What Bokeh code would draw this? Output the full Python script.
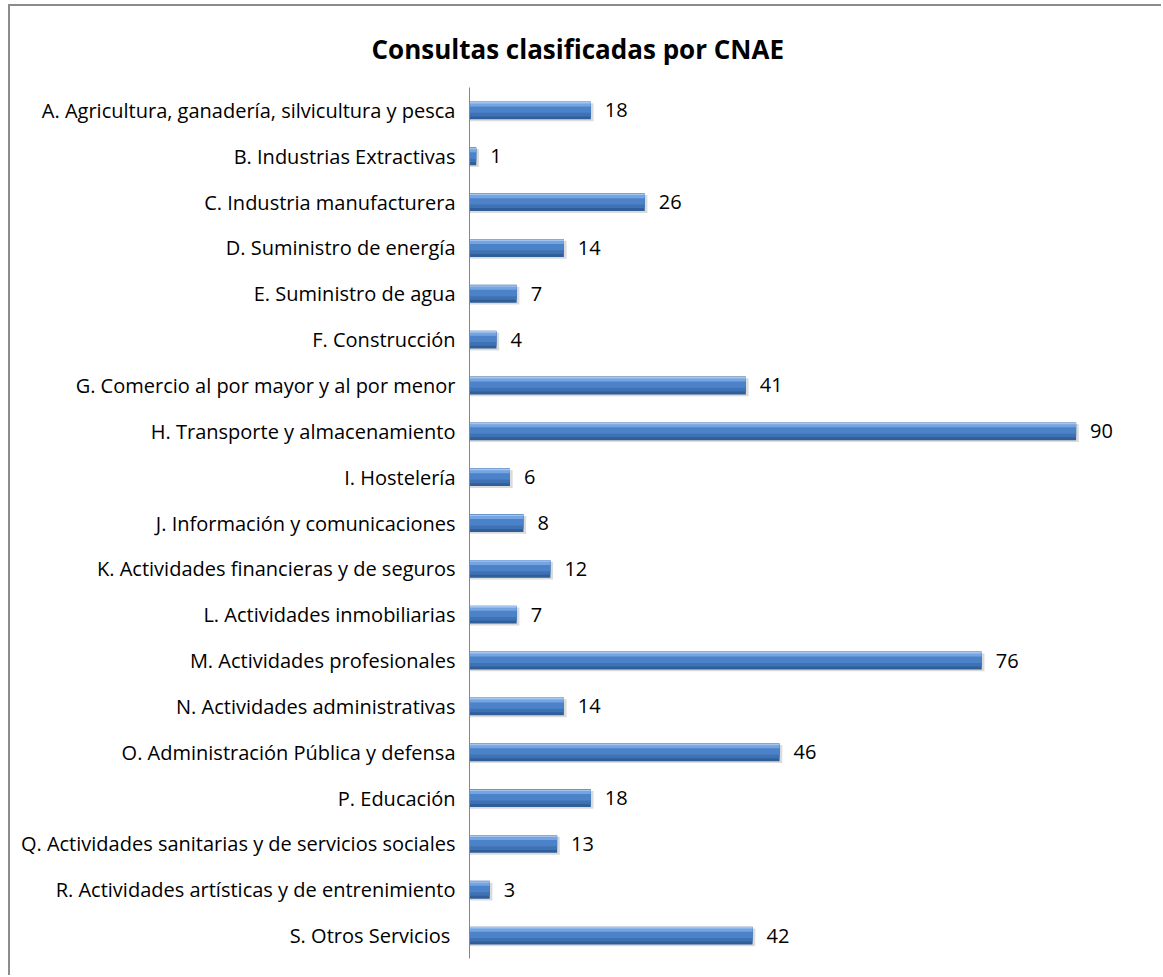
from bokeh.plotting import figure
from bokeh.models import ColumnDataSource, LabelSet, Range1d
from bokeh.core.properties import value
from bokeh.transform import dodge
from bokeh.embed import file_html
from bokeh.resources import INLINE

categories = [
    "A. Agricultura, ganadería, silvicultura y pesca",
    "B. Industrias Extractivas",
    "C. Industria manufacturera",
    "D. Suministro de energía",
    "E. Suministro de agua",
    "F. Construcción",
    "G. Comercio al por mayor y al por menor",
    "H. Transporte y almacenamiento",
    "I. Hostelería",
    "J. Información y comunicaciones",
    "K. Actividades financieras y de seguros",
    "L. Actividades inmobiliarias",
    "M. Actividades profesionales",
    "N. Actividades administrativas",
    "O. Administración Pública y defensa",
    "P. Educación",
    "Q. Actividades sanitarias y de servicios sociales",
    "R. Actividades artísticas y de entrenimiento",
    "S. Otros Servicios ",
]
values = [18, 1, 26, 14, 7, 4, 41, 90, 6, 8, 12, 7, 76, 14, 46, 18, 13, 3, 42]
title_text = "Consultas clasificadas por CNAE"

FONT = "Open Sans"

src = ColumnDataSource(dict(cat=categories, v=values, lab=[str(v) for v in values]))

p = figure(
    width=1153, height=971,
    y_range=list(reversed(categories)),
    x_range=Range1d(0, 100),
    output_backend="svg", toolbar_location=None,
    min_border_left=459, min_border_right=20,
    min_border_top=81, min_border_bottom=19,
)
p.outline_line_color = None
p.styles = {"border-left": "2px solid #8c8c8c", "border-top": "2px solid #8c8c8c",
            "margin-left": "8px", "margin-top": "4px"}

p.title.text = title_text
p.title.text_font = FONT
p.title.text_font_style = "bold"
p.title.text_font_size = "26px"
p.title.align = "left"
p.title.offset = -98
p.title.standoff = 42
p.title.text_color = "#000000"

H = 0.39
# shadow
p.hbar(y=dodge("cat", -0.04, range=p.y_range), left=0, right=dodge("v", 0.4), height=H,
       source=src, fill_color="#bdbdbd", fill_alpha=0.55, line_color=None)
# base dark
p.hbar(y="cat", left=0, right="v", height=H, source=src,
       fill_color="#2f5e98", line_color=None)
# lower tone
p.hbar(y=dodge("cat", 0.025, range=p.y_range), left=0, right="v", height=H * 0.8,
       source=src, fill_color="#3e72b5", line_color=None)
# middle tone
p.hbar(y=dodge("cat", 0.055, range=p.y_range), left=0, right="v", height=H * 0.55,
       source=src, fill_color="#4c83c8", line_color=None)
# upper light band
p.hbar(y=dodge("cat", 0.125, range=p.y_range), left=0, right="v", height=H * 0.2,
       source=src, fill_color="#74a5e2", line_color=None)
# top highlight
p.hbar(y=dodge("cat", 0.17, range=p.y_range), left=0, right="v", height=H * 0.09,
       source=src, fill_color="#a3c6f1", line_color=None)

labels = LabelSet(x="v", y="cat", text="lab", source=src, x_offset=14,
                  text_baseline="middle", text_align="left",
                  text_font=value(FONT), text_font_size=value("20px"),
                  text_color="#000000")
p.add_layout(labels)

p.xaxis.visible = False
p.xgrid.visible = False
p.ygrid.visible = False
ax = p.yaxis[0]
ax.axis_line_color = "#868686"
ax.axis_line_width = 1
ax.major_tick_line_color = None
ax.minor_tick_line_color = None
ax.major_label_standoff = 8
ax.major_label_text_font = FONT
ax.major_label_text_font_size = "20px"
ax.major_label_text_color = "#000000"

open("out.html", "w").write(file_html(p, INLINE))
